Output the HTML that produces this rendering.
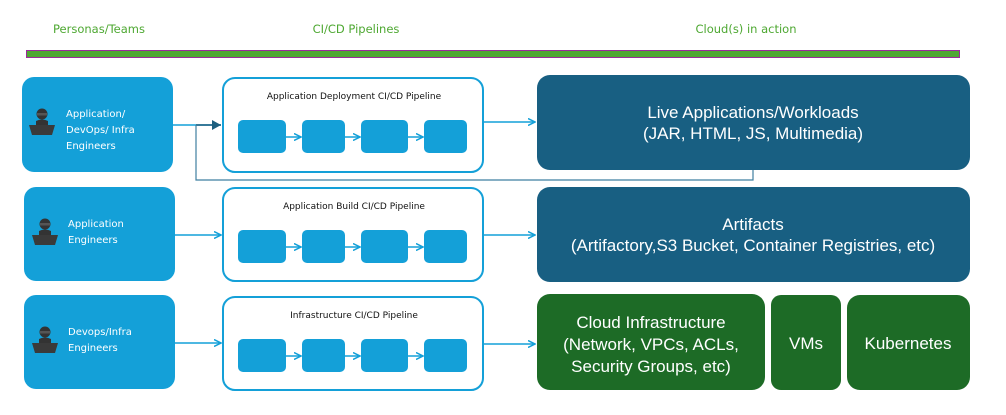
<!DOCTYPE html>
<html><head><style>body{margin:0;background:#fff}svg{display:block}</style></head><body>
<svg width="1006" height="415" xmlns="http://www.w3.org/2000/svg" font-family="Liberation Sans, sans-serif">
<defs>
<marker id="a" markerWidth="8" markerHeight="8" refX="7" refY="4" orient="auto" markerUnits="userSpaceOnUse"><path d="M0,0.5 L7,4 L0,7.5" fill="none" stroke="#14a0d8" stroke-width="1.5"/></marker>
<marker id="d" markerWidth="10" markerHeight="10" refX="9" refY="5" orient="auto" markerUnits="userSpaceOnUse"><path d="M0,0 L9,5 L0,10Z" fill="#1c5f7f"/></marker>
<g id="p"><circle cx="0" cy="-10" r="5.5" fill="#333"/><rect x="-5" y="-11" width="10" height="2.5" fill="#555"/><path d="M-6,-3 Q0,-6 6,-3 L6,1 L-6,1Z" fill="#333"/><path d="M-13,1 L13,1 L10,11 L-10,11Z" fill="#3a3a3a"/></g>
</defs>
<g font-size="11.5" fill="#4ea832" text-anchor="middle" font-family="DejaVu Sans, sans-serif">
<text x="99" y="33">Personas/Teams</text><text x="356" y="33">CI/CD Pipelines</text><text x="746" y="33">Cloud(s) in action</text></g>
<rect x="26.5" y="50.5" width="933" height="7" fill="#4fa832" stroke="#9b2a9b" stroke-width="1"/>
<g fill="#14a0d8">
<rect x="22" y="77" width="151" height="95" rx="12"/><rect x="24" y="187" width="151" height="94" rx="12"/><rect x="24" y="295" width="151" height="94" rx="12"/></g>
<use href="#p" x="42" y="124"/><use href="#p" x="45" y="234"/><use href="#p" x="45" y="342"/>
<g fill="#fff" font-size="10" font-family="DejaVu Sans, sans-serif">
<text x="66" y="117">Application/</text><text x="66" y="133">DevOps/ Infra</text><text x="66" y="149">Engineers</text>
<text x="68" y="227">Application</text><text x="68" y="243">Engineers</text>
<text x="68" y="335">Devops/Infra</text><text x="68" y="351">Engineers</text></g>
<g fill="#fff" stroke="#14a0d8" stroke-width="2">
<rect x="223" y="78" width="260" height="94" rx="12"/><rect x="223" y="188" width="260" height="93" rx="12"/><rect x="223" y="297" width="260" height="93" rx="12"/></g>
<g font-size="9" fill="#111" text-anchor="middle" font-family="DejaVu Sans, sans-serif">
<text x="354" y="99">Application Deployment CI/CD Pipeline</text>
<text x="354" y="209">Application Build CI/CD Pipeline</text>
<text x="354" y="318">Infrastructure CI/CD Pipeline</text></g>
<g fill="#14a0d8">
<rect x="238" y="120" width="48" height="33" rx="5"/><rect x="302" y="120" width="43" height="33" rx="5"/><rect x="361" y="120" width="47" height="33" rx="5"/><rect x="424" y="120" width="43" height="33" rx="5"/>
<rect x="238" y="230" width="48" height="33" rx="5"/><rect x="302" y="230" width="43" height="33" rx="5"/><rect x="361" y="230" width="47" height="33" rx="5"/><rect x="424" y="230" width="43" height="33" rx="5"/>
<rect x="238" y="339" width="48" height="33" rx="5"/><rect x="302" y="339" width="43" height="33" rx="5"/><rect x="361" y="339" width="47" height="33" rx="5"/><rect x="424" y="339" width="43" height="33" rx="5"/></g>
<g stroke="#14a0d8" stroke-width="1.5" fill="none" marker-end="url(#a)">
<path d="M286,137H301"/><path d="M345,137H360"/><path d="M408,137H423"/>
<path d="M286,247H301"/><path d="M345,247H360"/><path d="M408,247H423"/>
<path d="M286,356H301"/><path d="M345,356H360"/><path d="M408,356H423"/>
<path d="M175,235H221"/><path d="M175,343H221"/>
<path d="M484,122H535"/><path d="M484,235H535"/><path d="M484,344H535"/></g>
<path d="M173,125H221" stroke="#14a0d8" stroke-width="1.5"/>
<path d="M196,125H221" stroke="#1c5f7f" stroke-width="1.5" marker-end="url(#d)"/>
<path d="M196,125V180H753V170" stroke="#3f7fa0" stroke-width="1.2" fill="none"/>
<g fill="#185f82"><rect x="537" y="75" width="433" height="95" rx="13"/><rect x="537" y="187" width="433" height="95" rx="13"/></g>
<g fill="#1d6b26"><rect x="537" y="294" width="228" height="96" rx="13"/><rect x="771" y="295" width="70" height="95" rx="10"/><rect x="847" y="295" width="123" height="95" rx="13"/></g>
<g fill="#fff" font-size="17" text-anchor="middle">
<text x="753" y="118">Live Applications/Workloads</text><text x="753" y="139">(JAR, HTML, JS, Multimedia)</text>
<text x="753" y="230">Artifacts</text><text x="753" y="251">(Artifactory,S3 Bucket, Container Registries, etc)</text>
<text x="651" y="328">Cloud Infrastructure</text><text x="651" y="350">(Network, VPCs, ACLs,</text><text x="651" y="372">Security Groups, etc)</text>
<text x="806" y="349">VMs</text><text x="908" y="349">Kubernetes</text></g>
</svg>
</body></html>
